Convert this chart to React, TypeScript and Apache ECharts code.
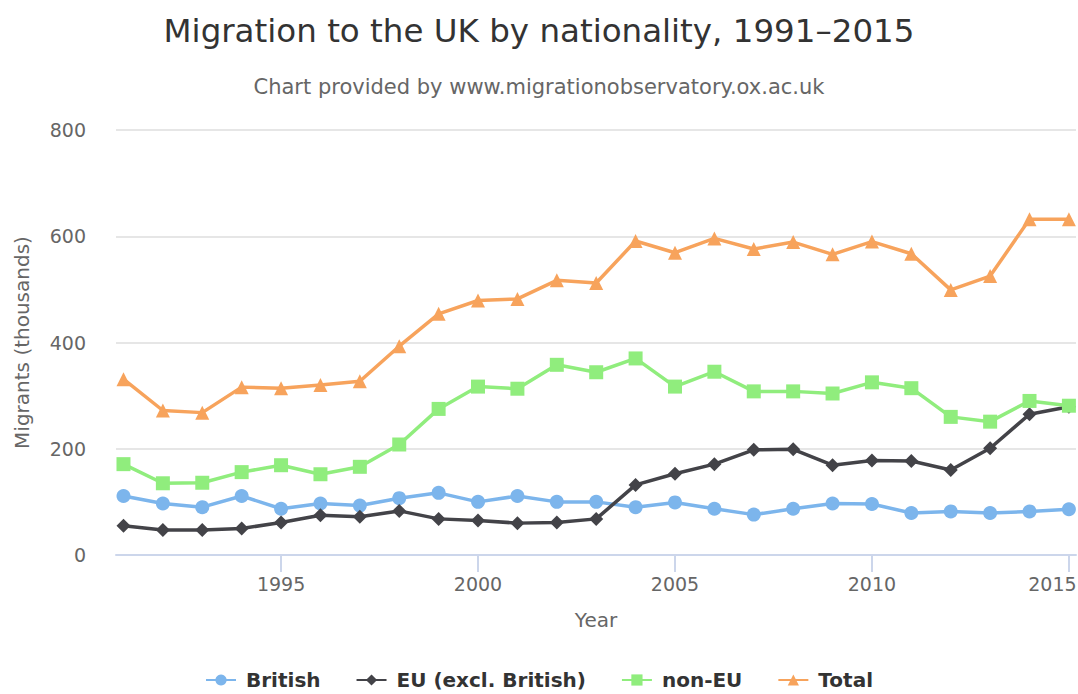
import React, { useEffect, useRef } from "react";
import * as echarts from "echarts";

const years = [
  1991, 1992, 1993, 1994, 1995, 1996, 1997, 1998, 1999, 2000, 2001, 2002, 2003,
  2004, 2005, 2006, 2007, 2008, 2009, 2010, 2011, 2012, 2013, 2014, 2015,
];
const british = [111, 97, 90, 111, 87, 97, 93, 107, 117, 100, 111, 100, 100, 90, 99, 87, 76, 87, 97, 96, 79, 82, 79, 82, 86];
const eu = [55, 47, 47, 50, 61, 75, 72, 83, 68, 65, 60, 61, 68, 132, 153, 171, 198, 199, 169, 178, 177, 160, 201, 265, 279];
const nonEu = [171, 135, 136, 156, 169, 152, 166, 208, 275, 317, 313, 358, 344, 370, 317, 345, 308, 308, 304, 325, 314, 260, 251, 290, 281];
const total = [331, 272, 268, 316, 314, 320, 327, 393, 454, 479, 482, 517, 512, 591, 569, 596, 576, 589, 566, 590, 567, 499, 525, 632, 632];
const xTickLabels = [1995, 2000, 2005, 2010, 2015];
const seriesNames = ["British", "EU (excl. British)", "non-EU", "Total"];

const FONT = "DejaVu Sans";

export default function App() {
  const ref = useRef<HTMLDivElement>(null);
  useEffect(() => {
    if (!ref.current) return;
    const chart = echarts.init(ref.current, undefined, { renderer: "svg" });
    const pairs = (vals: number[]) => years.map((y, i) => [y, vals[i]]);
    const lastTick = xTickLabels[xTickLabels.length - 1];
    const mk = (name: string, vals: number[], color: string, symbol: string, size: number) => ({
      name,
      type: "line",
      data: pairs(vals),
      symbol,
      symbolSize: size,
      showAllSymbol: true,
      lineStyle: { color, width: 3.5 },
      itemStyle: { color },
      emphasis: { disabled: true },
    });
    chart.setOption({
      animation: false,
      textStyle: { fontFamily: FONT },
      title: [
        {
          text: "Migration to the UK by nationality, 1991–2015",
          left: "center",
          top: 9,
          textStyle: { fontFamily: FONT, fontSize: 32.5, fontWeight: "normal", color: "#333333" },
        },
        {
          text: "Chart provided by www.migrationobservatory.ox.ac.uk",
          left: "center",
          top: 71,
          textStyle: { fontFamily: FONT, fontSize: 21, fontWeight: "normal", color: "#666666" },
        },
      ],
      legend: {
        data: seriesNames,
        left: "center",
        top: 670,
        padding: 0,
        itemWidth: 30,
        itemHeight: 14,
        itemGap: 35,
        textStyle: {
          fontFamily: FONT,
          fontSize: 20,
          lineHeight: 18,
          fontWeight: "bold",
          color: "#333333",
          padding: [0, 0, 0, 5],
        },
      },
      grid: { left: 116, right: 2, top: 130, bottom: 139, containLabel: false, outerBoundsMode: "none" },
      xAxis: {
        type: "value",
        min: 1990.81,
        max: 2015.18,
        name: "Year",
        nameLocation: "middle",
        nameGap: 55,
        nameTextStyle: { fontFamily: FONT, fontSize: 20, color: "#666666" },
        axisLine: { show: true, lineStyle: { color: "#ccd6eb", width: 2 } },
        axisTick: { show: true, length: 17, lineStyle: { color: "#ccd6eb", width: 2 }, customValues: xTickLabels },
        axisLabel: {
          customValues: xTickLabels,
          margin: 19,
          fontFamily: FONT,
          fontSize: 19,
          color: "#666666",
          formatter: (v: number) => (v === lastTick ? `{last|${v}}` : String(v)),
          rich: {
            last: { fontFamily: FONT, fontSize: 19, color: "#666666", padding: [0, 33, 0, 0] },
          },
        },
        splitLine: { show: false },
      },
      yAxis: {
        type: "value",
        min: 0,
        max: 800,
        interval: 200,
        name: "Migrants (thousands)",
        nameLocation: "middle",
        nameGap: 84,
        nameTextStyle: { fontFamily: FONT, fontSize: 20, color: "#666666" },
        axisLine: { show: false },
        axisTick: { show: false },
        axisLabel: { margin: 30, fontFamily: FONT, fontSize: 19, color: "#666666" },
        splitLine: { lineStyle: { color: "#e6e6e6", width: 2 } },
      },
      series: [
        mk(seriesNames[0], british, "#7cb5ec", "circle", 14),
        mk(seriesNames[1], eu, "#434348", "diamond", 14),
        mk(seriesNames[2], nonEu, "#90ed7d", "rect", 14),
        mk(seriesNames[3], total, "#f7a35c", "triangle", 14),
      ],
    });
    return () => chart.dispose();
  }, []);
  return <div ref={ref} style={{ width: 1078, height: 694, position: "absolute", left: 0, top: 0 }} />;
}
